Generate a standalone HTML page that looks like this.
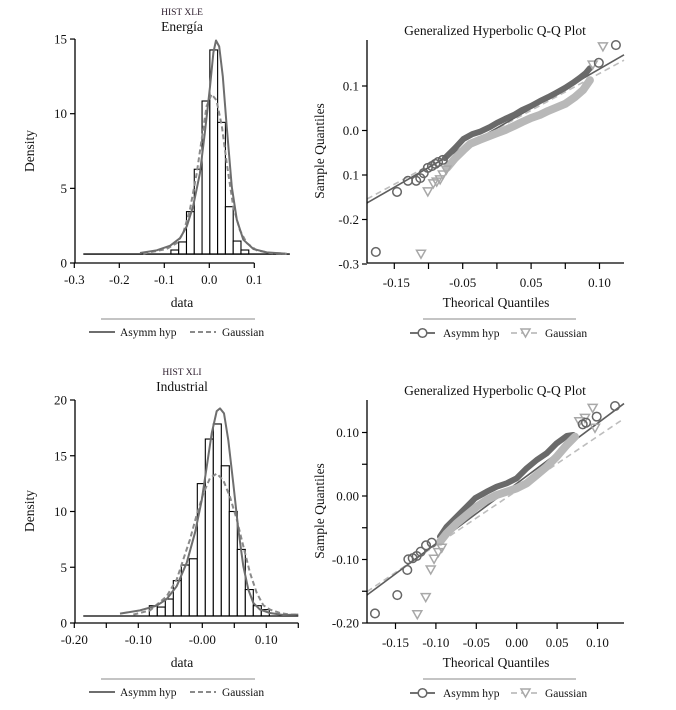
<!DOCTYPE html>
<html><head><meta charset="utf-8">
<style>
html,body{margin:0;padding:0;background:#fff;}
svg{display:block;font-family:"Liberation Serif",serif;}
</style></head>
<body>
<svg id="chart" width="676" height="710" viewBox="0 0 676 710" xmlns="http://www.w3.org/2000/svg"></svg>
<script>
// ---------- Panel 1 (Energía histogram) data ----------
const h1BinStart = -0.0853;
const h1BinWidth = 0.0173;
const h1Density = [0.87,1.41,3.44,6.28,10.85,14.27,9.42,3.77,1.47,0.87];
const h1AsymX = [-0.154,-0.117,-0.087,-0.065,-0.050,-0.036,-0.021,-0.010,0.0016,0.009,0.0149,0.022,0.030,0.0387,0.050,0.061,0.0756,0.098,0.1276,0.168];
const h1AsymY = [0.67,0.85,1.16,1.67,2.46,3.8,6.0,8.7,11.8,14.1,14.9,14.5,12.5,9.15,5.1,2.9,1.56,0.94,0.71,0.63];
const h1GaussX = [-0.147,-0.095,-0.072,-0.058,-0.043,-0.028,-0.017,-0.006,0.005,0.016,0.028,0.0387,0.053,0.068,0.083,0.105,0.135,0.172];
const h1GaussY = [0.63,0.94,1.34,2.0,3.6,6.0,8.3,10.5,11.3,10.9,9.15,6.7,3.8,2.2,1.34,0.85,0.67,0.63];
const h1XTicks = [-0.3,-0.2,-0.1,0.0,0.1];
const h1XLabels = ["-0.3","-0.2","-0.1","0.0","0.1"];
const h1YTicks = [0,5,10,15];
const h1YLabels = ["0","5","10","15"];

// ---------- Panel 3 (Industrial histogram) data ----------
const h3BinStart = -0.0828;
const h3BinWidth = 0.0125;
const h3Density = [1.55,1.43,2.15,3.8,5.2,5.76,12.5,16.5,17.85,14.1,10.0,6.6,3.0,1.55,1.2];
const h3AsymX = [-0.1286,-0.0973,-0.0713,-0.0557,-0.040,-0.0244,-0.0114,-0.001,0.0069,0.0147,0.0225,0.0277,0.0339,0.0407,0.0484,0.0563,0.0641,0.0719,0.0797,0.0902,0.1058,0.1266,0.15];
const h3AsymY = [0.84,1.13,1.55,2.15,3.3,5.4,8.1,11,14,17,19,19.25,18.8,16.4,12.5,8.4,5.1,3.0,1.8,1.2,0.9,0.72,0.75];
const h3GaussX = [-0.1078,-0.0817,-0.0557,-0.040,-0.0297,-0.0192,-0.0088,0.0016,0.012,0.0225,0.0328,0.0433,0.0537,0.0641,0.0745,0.085,0.0953,0.1058,0.1214,0.137,0.15];
const h3GaussY = [0.75,1.13,2.4,3.9,5.7,7.5,9.7,11.6,13,13.4,12.8,11.3,9.3,6.9,4.5,2.7,1.6,1.2,0.9,0.75,0.75];
const h3XTicks = [-0.20,-0.15,-0.10,-0.05,0.00,0.05,0.10,0.15];
const h3XLabels = ["-0.20","","-0.10","","-0.00","","0.10",""];
const h3YTicks = [0,5,10,15,20];
const h3YLabels = ["0","5","10","15","20"];

// ---------- Panel 2 (Energía Q-Q) data ----------
const q2AsymTheo = [-0.177,-0.146,-0.130,-0.118,-0.112,-0.107,-0.101,-0.095,-0.090,-0.086,-0.079,0.149,0.174];
const q2AsymSamp = [-0.273,-0.138,-0.113,-0.113,-0.107,-0.096,-0.084,-0.080,-0.075,-0.071,-0.066,0.152,0.192];
const q2AsymBandTheo = [-0.076,-0.061,-0.049,-0.036,-0.025,-0.010,0.000,0.012,0.025,0.037,0.050,0.063,0.075,0.086,0.100,0.111,0.121,0.130,0.136];
const q2AsymBandSamp = [-0.062,-0.039,-0.019,-0.008,-0.003,0.008,0.017,0.026,0.035,0.046,0.055,0.066,0.075,0.084,0.096,0.107,0.118,0.129,0.140];
const q2GaussTheo = [-0.111,-0.101,-0.093,-0.088,-0.083,-0.079,-0.074,0.140,0.155];
const q2GaussSamp = [-0.278,-0.138,-0.120,-0.116,-0.111,-0.100,-0.089,0.147,0.188];
const q2GaussBandTheo = [-0.073,-0.061,-0.049,-0.039,-0.025,-0.010,0.000,0.012,0.025,0.037,0.050,0.063,0.075,0.086,0.100,0.114,0.126,0.136];
const q2GaussBandSamp = [-0.084,-0.062,-0.044,-0.030,-0.021,-0.012,-0.006,0.001,0.010,0.019,0.028,0.035,0.044,0.051,0.060,0.075,0.091,0.113];
const q2LineAsym = [0.0054,0.886];   // intercept, slope
const q2LineGauss = [0.0037,0.830];
const q2XTicks = [-0.15,-0.10,-0.05,0.00,0.05,0.10,0.15];
const q2XLabels = ["-0.15","","-0.05","","0.05","","0.10"];
const q2YTicks = [0.1,0.0,-0.1,-0.2,-0.3];
const q2YLabels = ["0.1","0.0","0.1","-0.2","-0.3"];

// ---------- Panel 4 (Industrial Q-Q) data ----------
const q4AsymTheo = [-0.1754,-0.1478,-0.1354,-0.1341,-0.1287,-0.1238,-0.1188,-0.1122,-0.1052,0.0817,0.0858,0.099,0.1217];
const q4AsymSamp = [-0.185,-0.156,-0.1165,-0.0997,-0.098,-0.0945,-0.0877,-0.0777,-0.0735,0.1129,0.1155,0.125,0.1417];
const q4AsymBandTheo = [-0.0949,-0.0866,-0.0743,-0.0619,-0.0516,-0.0371,-0.0248,-0.0124,0.0,0.0124,0.0248,0.0371,0.0495,0.0619,0.070];
const q4AsymBandSamp = [-0.0641,-0.0483,-0.0326,-0.0168,-0.0037,0.0068,0.0147,0.0200,0.0278,0.0436,0.0567,0.0672,0.083,0.0945,0.096];
const q4GaussTheo = [-0.123,-0.1126,-0.1064,-0.1023,-0.097,-0.0928,0.0775,0.0845,0.094,0.0969];
const q4GaussSamp = [-0.187,-0.160,-0.1165,-0.0997,-0.0892,-0.0822,0.117,0.1223,0.138,0.1066];
const q4GaussBandTheo = [-0.0949,-0.0866,-0.0743,-0.0619,-0.0495,-0.0371,-0.0248,-0.0124,0.0,0.0124,0.0248,0.0371,0.0495,0.0619,0.0722];
const q4GaussBandSamp = [-0.072,-0.0588,-0.043,-0.030,-0.0168,-0.0063,0.0016,0.0068,0.0121,0.020,0.0331,0.0462,0.0619,0.0803,0.0934];
const q4LineAsym = [0.0197,0.948];
const q4LineGauss = [0.0081,0.857];
const q4XTicks = [-0.15,-0.10,-0.05,0.00,0.05,0.10];
const q4XLabels = ["-0.15","-0.10","-0.05","0.00","0.05","0.10"];
const q4YTicks = [0.10,0.05,0.00,-0.05,-0.10,-0.15,-0.20];
const q4YLabels = ["0.10","","0.00","","-0.10","","-0.20"];

const NS = "http://www.w3.org/2000/svg";
const svg = document.getElementById('chart');
function mk(parent, tag, attrs, text){
  const e = document.createElementNS(NS, tag);
  for (const k in attrs) e.setAttribute(k, attrs[k]);
  if (text !== undefined) e.textContent = text;
  parent.appendChild(e);
  return e;
}
function group(name){
  const g = mk(svg, 'g', {});
  
  
  return g;
}
function pts(xs, ys, fx, fy){ return xs.map((v,i)=>fx(v).toFixed(1)+','+fy(ys[i]).toFixed(1)).join(' '); }

// ===== Histogram panel =====
function histPanel(o){
  const g = group(o.name);
  const xs = v => o.x0 + v*o.kx, ys = d => o.y0 - d*o.ky;
  const base = ys(o.baseD);
  const t1 = mk(g,'text',{x:o.cx,y:o.y0-248,'font-size':9.5,'text-anchor':'middle',fill:'#2a1a2a'},o.sub);
  
  
  const t2 = mk(g,'text',{x:o.cx,y:o.y0-232,'font-size':13.5,'text-anchor':'middle',fill:'#111'},o.title);
  
  
  o.dens.forEach((d,i)=>{
    const xa = xs(o.binStart + i*o.binW), xb = xs(o.binStart + (i+1)*o.binW);
    const r = mk(g,'rect',{x:xa,y:ys(d),width:xb-xa,height:base-ys(d),fill:'#fff',stroke:'#000','stroke-width':1.1});
    
    
  });
  const bl = mk(g,'line',{x1:xs(o.blFrom),x2:xs(o.blTo),y1:base,y2:base,stroke:'#000','stroke-width':1.3});
  
  
  const cg = mk(g,'polyline',{points:pts(o.gx,o.gy,xs,ys),fill:'none',stroke:'#8a8a8a','stroke-width':2,'stroke-dasharray':'5,3'});
  
  
  const ca = mk(g,'polyline',{points:pts(o.ax,o.ay,xs,ys),fill:'none',stroke:'#6e6e6e','stroke-width':2,'stroke-linejoin':'round'});
  
  
  const yTop = ys(o.yT[o.yT.length-1]);
  const ya = mk(g,'line',{x1:o.axX,x2:o.axX,y1:yTop,y2:o.y0,stroke:'#000','stroke-width':1.3});
  
  
  o.yT.forEach((v,i)=>{
    mk(g,'line',{x1:o.axX-5,x2:o.axX,y1:ys(v),y2:ys(v),stroke:'#000','stroke-width':1.2});
    const t = mk(g,'text',{x:o.axX-8,y:ys(v)+4.5,'font-size':13,'text-anchor':'end',fill:'#111'},o.yL[i]);
    
    
  });
  const xa = mk(g,'line',{x1:xs(o.xT[0]),x2:xs(o.xT[o.xT.length-1]),y1:o.y0,y2:o.y0,stroke:'#000','stroke-width':1.3});
  
  
  o.xT.forEach((v,i)=>{
    mk(g,'line',{x1:xs(v),x2:xs(v),y1:o.y0,y2:o.y0+5,stroke:'#000','stroke-width':1.2});
    if (o.xL[i]) {
      const t = mk(g,'text',{x:xs(v),y:o.y0+21,'font-size':13,'text-anchor':'middle',fill:'#111'},o.xL[i]);
      
      
    }
  });
  const xt = mk(g,'text',{x:o.cx,y:o.y0+44,'font-size':13.5,'text-anchor':'middle',fill:'#111'},'data');
  
  
  const yt = mk(g,'text',{x:0,y:0,'font-size':13.5,'text-anchor':'middle',fill:'#111',transform:`translate(34,${o.y0-112}) rotate(-90)`},'Density');
  
  
  const lg = mk(g,'g',{});
  
  
  mk(lg,'line',{x1:101,x2:255,y1:o.y0+56,y2:o.y0+56,stroke:'#888','stroke-width':1});
  const ly = o.y0+69;
  mk(lg,'line',{x1:89,x2:115,y1:ly,y2:ly,stroke:'#6e6e6e','stroke-width':2});
  const l1 = mk(lg,'text',{x:120,y:ly+4,'font-size':11.5,fill:'#111'},'Asymm hyp');
  
  
  mk(lg,'line',{x1:190,x2:216,y1:ly,y2:ly,stroke:'#8a8a8a','stroke-width':2,'stroke-dasharray':'5,3'});
  const l2 = mk(lg,'text',{x:222,y:ly+4,'font-size':11.5,fill:'#111'},'Gaussian');
  
  
}

// ===== Q-Q panel =====
function tri(g, x, y, col){
  return mk(g,'polygon',{points:`${x-4.5},${y-4} ${x+4.5},${y-4} ${x},${y+4}`,fill:'none',stroke:col,'stroke-width':1.5});
}
function qqPanel(o){
  const g = group(o.name);
  const xs = v => o.x0 + v*o.kx, ys = v => o.y0 - v*o.ky;
  const tt = mk(g,'text',{x:495,y:o.top-5,'font-size':13.5,'text-anchor':'middle',fill:'#111'},'Generalized Hyperbolic Q-Q Plot');
  
  
  const L = 367, R = 624, B = o.bottom;
  const lvA = [(L-o.x0)/o.kx,(R-o.x0)/o.kx];
  const rg = mk(g,'line',{x1:L,x2:R,y1:ys(o.lineG[0]+o.lineG[1]*lvA[0]),y2:ys(o.lineG[0]+o.lineG[1]*lvA[1]),stroke:'#bdbdbd','stroke-width':1.6,'stroke-dasharray':'6,4'});
  
  
  const ra = mk(g,'line',{x1:L,x2:R,y1:ys(o.lineA[0]+o.lineA[1]*lvA[0]),y2:ys(o.lineA[0]+o.lineA[1]*lvA[1]),stroke:'#5e5e5e','stroke-width':1.6});
  
  
  const ba = mk(g,'polyline',{points:pts(o.abx,o.aby,xs,ys),fill:'none',stroke:'#6a6a6a','stroke-width':6,'stroke-linejoin':'round','stroke-linecap':'round'});
  
  
  const bg = mk(g,'polyline',{points:pts(o.gbx,o.gby,xs,ys),fill:'none',stroke:'#b8b8b8','stroke-width':8,'stroke-linejoin':'round','stroke-linecap':'round'});
  
  
  o.gx.forEach((v,i)=>{
    const p = tri(g, xs(v), ys(o.gy[i]), '#a8a8a8');
    
    
  });
  o.ax.forEach((v,i)=>{
    const c = mk(g,'circle',{cx:xs(v),cy:ys(o.ay[i]),r:4.3,fill:'none',stroke:'#666','stroke-width':1.5});
    
    
  });
  const ya = mk(g,'line',{x1:L,x2:L,y1:o.top,y2:B,stroke:'#000','stroke-width':1.3});
  
  
  o.yT.forEach((v,i)=>{
    mk(g,'line',{x1:L-5,x2:L,y1:ys(v),y2:ys(v),stroke:'#000','stroke-width':1.2});
    if (o.yL[i]) {
      const t = mk(g,'text',{x:L-8,y:ys(v)+4.5,'font-size':13,'text-anchor':'end',fill:'#111'},o.yL[i]);
      
      
    }
  });
  const xa = mk(g,'line',{x1:L,x2:R,y1:B,y2:B,stroke:'#000','stroke-width':1.3});
  
  
  o.xT.forEach((v,i)=>{
    mk(g,'line',{x1:xs(v),x2:xs(v),y1:B,y2:B+6,stroke:'#000','stroke-width':1.2});
  });
  o.xT.forEach((v,i)=>{
    if (o.xL[i]) {
      const lx = o.labelPos ? o.labelPos(i, xs(v)) : xs(v);
      const t = mk(g,'text',{x:lx,y:B+24,'font-size':13,'text-anchor':'middle',fill:'#111'},o.xL[i]);
      
      
    }
  });
  const xt = mk(g,'text',{x:496,y:B+44,'font-size':13.5,'text-anchor':'middle',fill:'#111'},'Theorical Quantiles');
  
  
  const yt = mk(g,'text',{x:0,y:0,'font-size':13.5,'text-anchor':'middle',fill:'#111',transform:`translate(324,${B-112}) rotate(-90)`},'Sample Quantiles');
  
  
  const lg = mk(g,'g',{});
  
  
  mk(lg,'line',{x1:423,x2:576,y1:B+56,y2:B+56,stroke:'#888','stroke-width':1});
  const ly = B+70;
  mk(lg,'line',{x1:410,x2:435,y1:ly,y2:ly,stroke:'#5e5e5e','stroke-width':1.8});
  mk(lg,'circle',{cx:422.5,cy:ly,r:4.3,fill:'#fff',stroke:'#666','stroke-width':1.5});
  const l1 = mk(lg,'text',{x:443,y:ly+4,'font-size':11.5,fill:'#111'},'Asymm hyp');
  
  
  mk(lg,'line',{x1:511,x2:540,y1:ly,y2:ly,stroke:'#bdbdbd','stroke-width':1.8,'stroke-dasharray':'6,4'});
  const tp = tri(lg, 525.5, ly, '#a8a8a8');
  tp.setAttribute('fill','#fff');
  const l2 = mk(lg,'text',{x:545,y:ly+4,'font-size':11.5,fill:'#111'},'Gaussian');
  
  
}

histPanel({name:'histogram-energia',sub:'HIST XLE',title:'Energía',cx:182,
  x0:209.3,kx:450,y0:263,ky:14.93,axX:75,baseD:0.6,blFrom:-0.28,blTo:0.179,
  binStart:h1BinStart,binW:h1BinWidth,dens:h1Density,
  ax:h1AsymX,ay:h1AsymY,gx:h1GaussX,gy:h1GaussY,
  xT:h1XTicks,xL:h1XLabels,yT:h1YTicks,yL:h1YLabels});

histPanel({name:'histogram-industrial',sub:'HIST XLI',title:'Industrial',cx:182,
  x0:202.3,kx:640,y0:623,ky:11.15,axX:75,baseD:0.63,blFrom:-0.186,blTo:0.15,
  binStart:h3BinStart,binW:h3BinWidth,dens:h3Density,
  ax:h3AsymX,ay:h3AsymY,gx:h3GaussX,gy:h3GaussY,
  xT:h3XTicks,xL:h3XLabels,yT:h3YTicks,yL:h3YLabels});

qqPanel({name:'qq-plot-energia',x0:496.9,kx:684,y0:130.5,ky:445,top:40,bottom:263,
  ax:q2AsymTheo,ay:q2AsymSamp,abx:q2AsymBandTheo,aby:q2AsymBandSamp,
  gx:q2GaussTheo,gy:q2GaussSamp,gbx:q2GaussBandTheo,gby:q2GaussBandSamp,
  lineA:q2LineAsym,lineG:q2LineGauss,xT:q2XTicks,xL:q2XLabels,yT:q2YTicks,yL:q2YLabels,
  labelPos:(i,x)=> x + (i===0?2:0)});

qqPanel({name:'qq-plot-industrial',x0:516.7,kx:808,y0:496,ky:635,top:400,bottom:623,
  ax:q4AsymTheo,ay:q4AsymSamp,abx:q4AsymBandTheo,aby:q4AsymBandSamp,
  gx:q4GaussTheo,gy:q4GaussSamp,gbx:q4GaussBandTheo,gby:q4GaussBandSamp,
  lineA:q4LineAsym,lineG:q4LineGauss,xT:q4XTicks,xL:q4XLabels,yT:q4YTicks,yL:q4YLabels});
</script>
</body></html>
